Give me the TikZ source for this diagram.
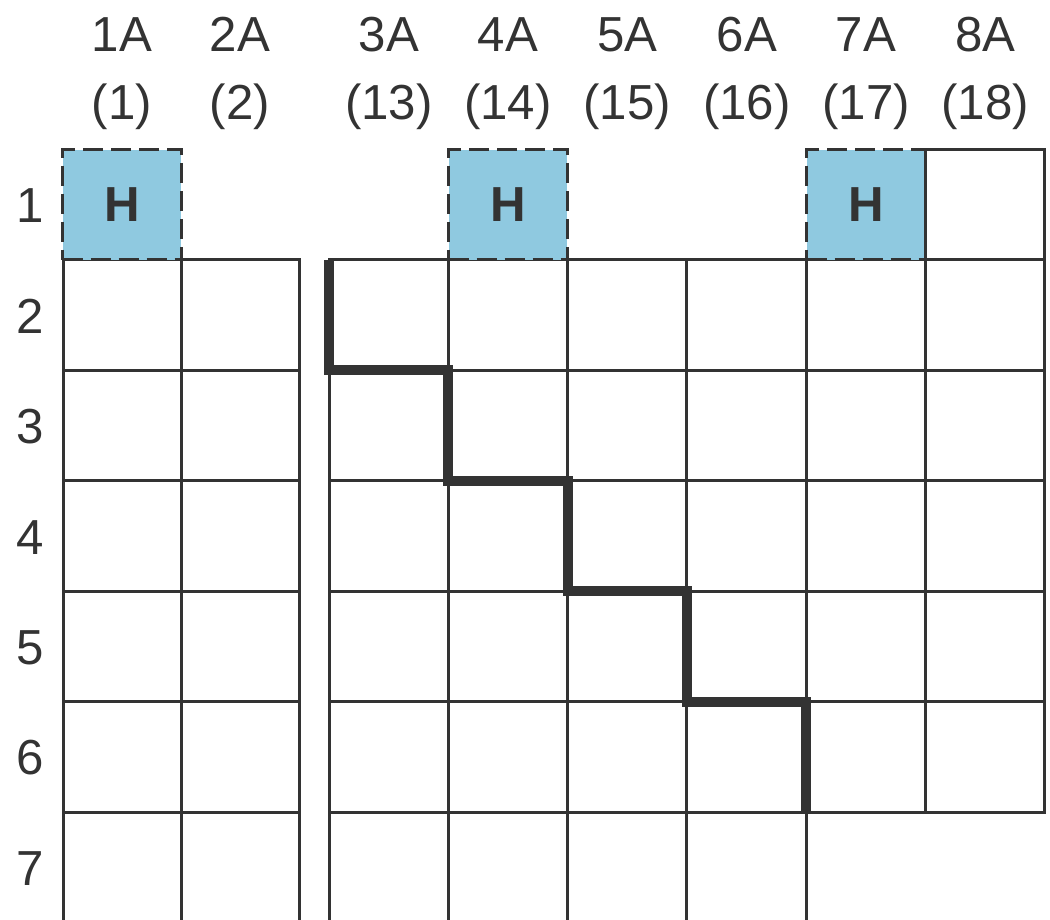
\documentclass[tikz,border=0pt]{standalone}
\usepackage{fontspec}
\setsansfont{Liberation Sans}
\usepackage{xcolor}
\usepackage{tikz}
\usetikzlibrary{positioning}
\definecolor{ink}{HTML}{333333}
\definecolor{hblue}{HTML}{8FC9E0}
\tikzset{
  cell/.style   = {draw=ink, fill=white, line width=0.75mm},
  hbox/.style   = {draw=ink, fill=hblue, line width=0.75mm, dash pattern=on 5mm off 2mm,
                   minimum width=29.7mm, minimum height=27.6mm, inner sep=0pt,
                   font=\fontsize{35}{40}\selectfont\sffamily\bfseries\color{ink}},
  grp/.style    = {font=\fontsize{35}{40}\selectfont\sffamily\color{ink}, anchor=base, inner sep=0pt, outer sep=0pt},
  stair/.style  = {draw=ink, line width=2.5mm, line join=miter},
}

\begin{document}
\begin{tikzpicture}[x=1mm,y=1mm]
\path[use as bounding box] (0,0) rectangle (262.5,229.75);

% ---- group labels -------------------------------------------------------
\foreach \x/\g/\n [count=\i] in {30.5/1A/1, 60/2A/2, 97.2/3A/13, 127/4A/14,
                                  156.8/5A/15, 186.7/6A/16, 216.5/7A/17, 246.3/8A/18}{%
  \node[grp] (g\i) at (\x,216.75) {\g};
  \node[grp] (n\i) at (\x,199.75) {(\n)};
}

% ---- period labels ------------------------------------------------------
\foreach \r in {1,...,7}{ \node[grp] (p\r) at ({7.5},{192.35-(\r-1)*27.6-18.3}) {\r}; }

% ---- the two blocks -----------------------------------------------------
\foreach \c in {0,1}{
  \foreach \r in {2,...,7}{ \draw[cell] ({15.75+\c*29.5},{192.35-(\r-1)*27.6}) rectangle ++(29.5,-27.6); }
}
\foreach \c/\last in {0/7, 1/7, 2/7, 3/7, 4/6, 5/6}{
  \foreach \r in {2,...,\last}{ \draw[cell] ({82.25+\c*29.83},{192.35-(\r-1)*27.6}) rectangle ++(29.83,-27.6); }
}

% ---- hydrogen -----------------------------------------------------------
\node[hbox] (h1) at (30.5,178.55) {H};
\node[hbox] (h4) at (127,178.55) {H};
\node[hbox] (h7) at (216.5,178.55) {H};
\draw[cell] ({82.25+5*29.83},192.35) rectangle ++(29.83,-27.6);

% ---- metal / nonmetal line ----------------------------------------------
\draw[stair] (82.25,164.75) |- (112.08,137.15) |- (141.91,109.55) |- (171.74,81.95)
             |- (201.57,54.35) -- (201.57,26.75);

\end{tikzpicture}
\end{document}
